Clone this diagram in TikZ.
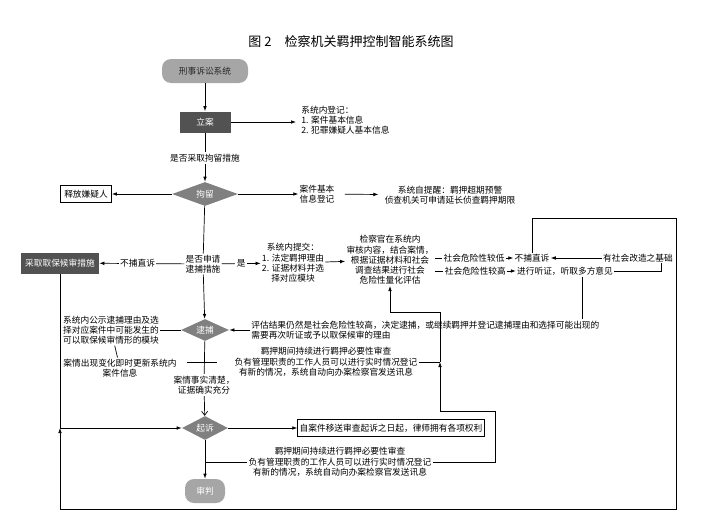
\documentclass[tikz,border=0pt]{standalone}
\usepackage{fontspec}
\setmainfont{Noto Sans CJK SC}
\usetikzlibrary{arrows.meta,shapes.geometric,positioning}

\begin{document}
\begin{tikzpicture}[x=1pt,y=-1pt,line width=0.7pt]
  \fontsize{8.7}{10.3}\selectfont
  \tikzset{
    txt/.style={align=center, inner sep=1pt},
    lbl/.style={fill=white, align=center, inner sep=1.5pt},
    darkbox/.style={fill=black!68, text=white, minimum height=21pt, inner sep=2pt},
    whitebox/.style={draw, line width=0.8pt, minimum height=17pt, inner sep=2pt},
    capsule/.style={fill=black!35, rounded corners=9pt, inner sep=2pt},
    decision/.style={diamond, shape aspect=2.5, fill=black!50, text=white, inner sep=0pt},
    arr/.style={-{Latex[length=5pt,width=3.6pt]}},
  }
  \useasboundingbox (0,0) rectangle (710,522);

  \coordinate (j1) at (60,428);  % join left
  \coordinate (lt) at (676,218); % loop top right
  \coordinate (lb) at (676,509); % loop bottom right
  \coordinate (r1) at (495,411);
  \coordinate (r2) at (440,312);
  \coordinate (r3) at (440,362);
  \coordinate (c1) at (187,362);
  \coordinate (c2) at (217,362);

  \node[font=\fontsize{13}{15}\selectfont] (title) at (351,42) {图 2\quad 检察机关羁押控制智能系统图};

  % Main column.
  \node[capsule, text=black!85, minimum width=86pt, minimum height=24pt] (xs) at (205,71) {刑事诉讼系统};
  \node[darkbox, minimum width=51pt] (la) at (205,122) {立案};
  \node[lbl] (q1) at (205,158) {是否采取拘留措施};
  \node[decision, minimum width=66pt, minimum height=24pt] (jl) at (205,194) {拘留};
  \node[txt] (q2) at (203,264) {是否申请\\逮捕措施};
  \node[decision, minimum width=48pt, minimum height=22pt] (db) at (205,330) {逮捕};
  \node[lbl] (q3) at (204,385) {案情事实清楚，\\证据确实充分};
  \node[decision, minimum width=46pt, minimum height=24pt] (qs) at (205,428) {起诉};
  \node[capsule, text=white, minimum width=40pt, minimum height=24pt] (sp) at (205,491) {审判};

  % Side texts.
  \node[txt, align=left, anchor=west] (reg) at (300,120) {系统内登记：\\1. 案件基本信息\\2. 犯罪嫌疑人基本信息};
  \node[whitebox, minimum width=51pt] (sf) at (86,194) {释放嫌疑人};
  \node[txt] (djxx) at (317,194) {案件基本\\信息登记};
  \node[txt] (tx) at (450,195) {系统自提醒：羁押超期预警\\侦查机关可申请延长侦查羁押期限};
  \node[darkbox, minimum width=78pt] (qb) at (60,263) {采取取保候审措施};
  \node[txt] (tj) at (293,263) {系统内提交：\\1. 法定羁押理由\\2. 证据材料并选\\择对应模块};
  \node[txt] (pg) at (390,260) {检察官在系统内\\审核内容，结合案情，\\根据证据材料和社会\\调查结果进行社会\\危险性量化评估};
  \node[txt] (bb) at (532,258) {不捕直诉};
  \node[txt] (tz) at (565,271) {进行听证，听取多方意见};
  \node[txt] (gz) at (638,258) {有社会改造之基础};
  \node[txt] (gs) at (111,330) {系统内公示逮捕理由及选\\择对应案件中可能发生的\\可以取保候审情形的模块};
  \node[txt] (chg) at (120,368) {案情出现变化即时更新系统内\\案件信息};
  \node[txt, align=left, anchor=west] (pgjg) at (250,330) {评估结果仍然是社会危险性较高，决定逮捕，或继续羁押并登记逮捕理由和选择可能出现的\\需要再次听证或予以取保候审的理由};
  \node[txt] (jy1) at (326,362) {羁押期间持续进行羁押必要性审查\\负有管理职责的工作人员可以进行实时情况登记\\有新的情况，系统自动向办案检察官发送讯息};
  \node[whitebox] (ls) at (391,428) {自案件移送审查起诉之日起，律师拥有各项权利};
  \node[txt] (jy2) at (340,462) {羁押期间持续进行羁押必要性审查\\负有管理职责的工作人员可以进行实时情况登记\\有新的情况，系统自动向办案检察官发送讯息};

  % Connectors down the main column.
  \draw[arr] (xs) -- (la);
  \draw (la) -- (q1);
  \draw[arr] (q1) -- (jl);
  \draw (jl) -- (q2);
  \draw[arr] (q2) -- (db);
  \draw (db) -- (q3);
  \draw[-{Straight Barb[length=4pt,width=6pt]}] (q3) -- (qs);
  \draw[arr] (qs) -- (sp);

  % Connectors to the sides.
  \draw[arr] (la.east) -- ([xshift=-4pt]reg.west |- la.east);
  \draw[arr] (jl) -- (sf);
  \draw[arr] (jl) -- (djxx);
  \draw[arr, shorten <=9pt, shorten >=5pt] (djxx) -- (tx);
  \draw[arr] (q2) -- node[lbl, pos=0.55] {不捕直诉} (qb);
  \draw[arr] (q2) -- node[lbl] {是} (tj);
  \draw[arr] (tj) -- (pg);
  \draw[arr] (pg.east |- bb) -- node[lbl] {社会危险性较低} (bb);
  \draw[arr] (pg.east |- tz) -- node[lbl] {社会危险性较高} (tz);
  \draw[arr] (gz) -- (bb);
  \draw (tz.east) -| ([xshift=23pt]gz.south);
  \draw ([xshift=17pt]tz.south) -- ([xshift=17pt]tz.south |- pgjg.north);
  \draw[arr] (pgjg.west) -- (db.east);
  \draw (gs) -- (db);
  \draw (gs) -- (chg);
  \draw (c1) -- (c2);
  \draw[arr] (qs) -- (ls);

  % Loops back.
  \draw (qb) -- (j1);
  \draw[arr] (j1) -- (qs);
  \draw[arr] (bb) |- (lt) -- (lb) -| (j1);
  \draw (qs.south |- jy2) -- (jy2);
  \draw[arr] (jy2) -| (r1) -| (r3);
  \draw[arr] (r3) -- (r2) -| (pg);
  \draw (jy1) -- (r3);
\end{tikzpicture}
\end{document}
